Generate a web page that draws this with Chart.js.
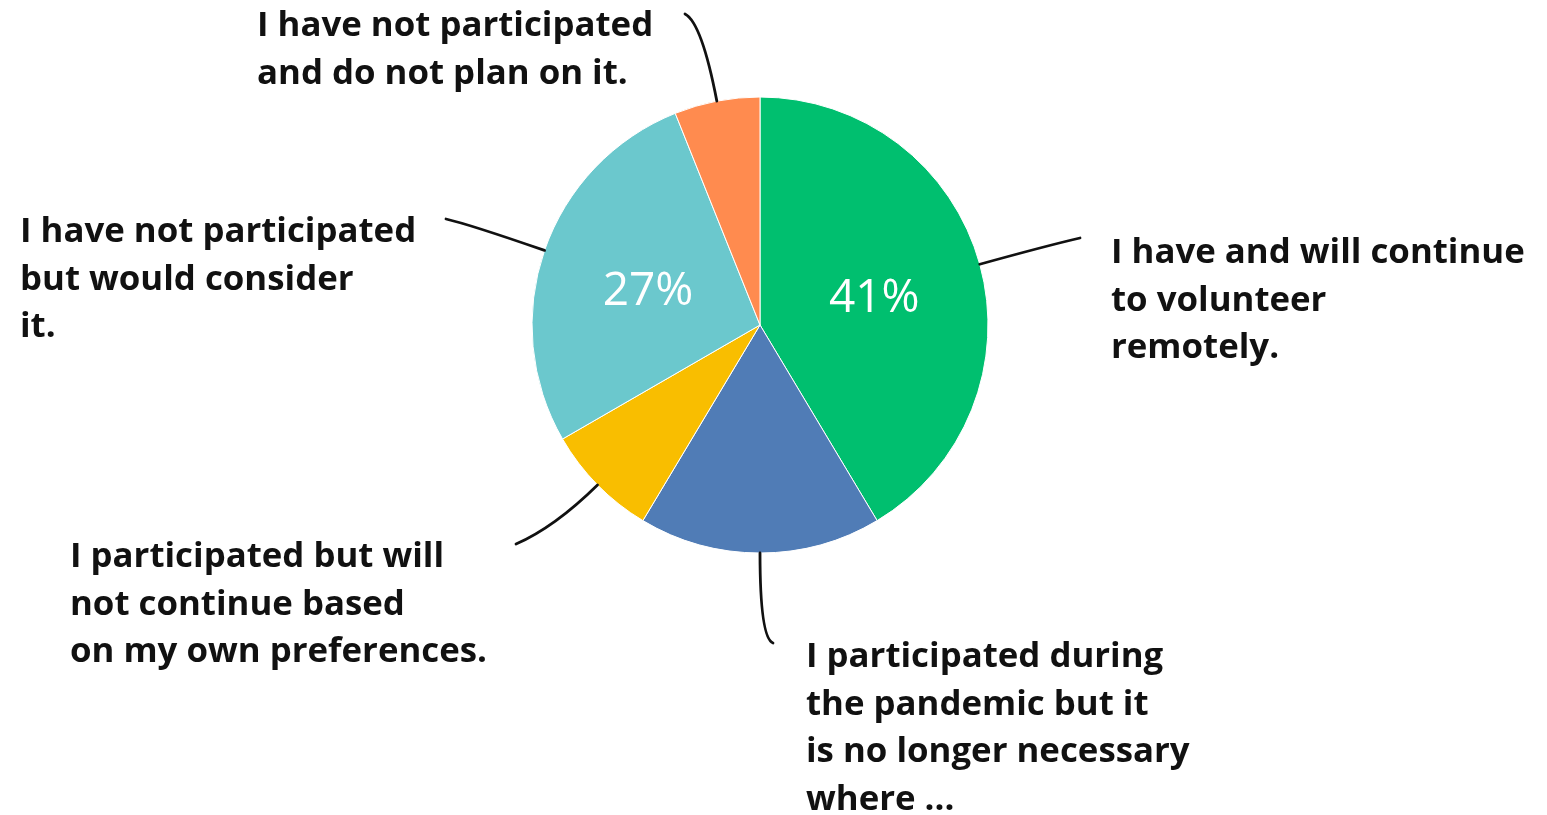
<!DOCTYPE html>
<html>
<head>
<meta charset="utf-8">
<script src="https://cdn.jsdelivr.net/npm/chart.js@4.4.0/dist/chart.umd.min.js"></script>
<style>
  html, body { margin: 0; padding: 0; background: #fff; }
  #wrap { width: 1547px; height: 815px; }
</style>
</head>
<body>
<div id="wrap"><canvas id="pieChart"></canvas></div>
<script>
// answers, one array of lines per slice (clockwise from 12 o'clock)
const respuestas = [
  ["I have and will continue", "to volunteer", "remotely."],
  ["I participated during", "the pandemic but it", "is no longer necessary", "where ..."],
  ["I participated but will", "not continue based", "on my own preferences."],
  ["I have not participated", "but would consider", "it."],
  ["I have not participated", "and do not plan on it."],
];
const porcentajes = [41, 17, 8, 27, 6];
const colores = ["#00BF6F", "#507CB6", "#F9BE00", "#6BC8CD", "#FF8B4F"];

// only slices this big get their % written inside
const minEtiqueta = 20;

// callout text origin (x, first baseline) and where the leader line ends
const callouts = [
  { x: 1111, y: 263, endX: 1080, endY: 238, bend: 70 },
  { x: 806, y: 667, endX: 773, endY: 643, bend: 85 },
  { x: 70, y: 567, endX: 516, endY: 544, bend: 60 },
  { x: 20, y: 242, endX: 446, endY: 219, bend: 80 },
  { x: 257, y: 36, endX: 685, endY: 14, bend: 80 },
];

const etiquetasPlugin = {
  id: "etiquetas",
  afterDatasetsDraw(chart) {
    const ctx = chart.ctx;
    const arcs = chart.getDatasetMeta(0).data;
    arcs.forEach((arc, i) => {
      const { x, y, startAngle, endAngle, outerRadius } =
        arc.getProps(["x", "y", "startAngle", "endAngle", "outerRadius"], true);
      const mid = (startAngle + endAngle) / 2;
      const dx = Math.cos(mid), dy = Math.sin(mid);
      const c = callouts[i];
      const sx = x + dx * outerRadius, sy = y + dy * outerRadius;

      ctx.save();
      // leader line
      ctx.strokeStyle = "#111";
      ctx.lineWidth = 2.8;
      ctx.lineCap = "round";
      ctx.beginPath();
      ctx.moveTo(sx, sy);
      ctx.quadraticCurveTo(sx + dx * c.bend, sy + dy * c.bend, c.endX, c.endY);
      ctx.stroke();

      // callout text
      ctx.fillStyle = "#111";
      ctx.font = '700 34.8px "Open Sans"';
      ctx.textAlign = "left";
      ctx.textBaseline = "alphabetic";
      respuestas[i].forEach((linea, j) => ctx.fillText(linea, c.x, c.y + j * 47.5));

      // percentage inside the slice
      if (porcentajes[i] >= minEtiqueta) {
        const r = outerRadius * 0.52;
        ctx.fillStyle = "#fff";
        ctx.font = '500 46px "Open Sans"';
        ctx.textAlign = "center";
        ctx.fillText(porcentajes[i] + "%", x + dx * r, y + dy * r + 19);
      }
      ctx.restore();
    });
  }
};

new Chart(document.getElementById("pieChart"), {
  type: "pie",
  data: {
    labels: respuestas,
    datasets: [{
      data: porcentajes,
      backgroundColor: colores,
      borderColor: "#fff",
      borderWidth: 1
    }]
  },
  options: {
    responsive: true,
    maintainAspectRatio: false,
    animation: false,
    layout: { padding: { top: 96.5, bottom: 261.5, left: 531.5, right: 558.5 } },
    plugins: {
      legend: { display: false },
      tooltip: { enabled: false }
    }
  },
  plugins: [etiquetasPlugin]
});
</script>
</body>
</html>
